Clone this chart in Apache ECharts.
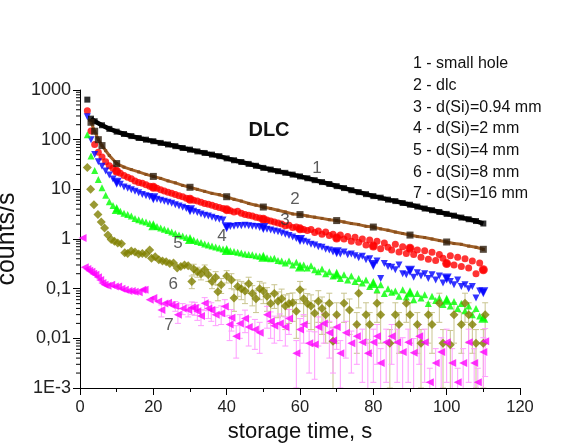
<!DOCTYPE html>
<html><head><meta charset="utf-8">
<script src="https://cdn.jsdelivr.net/npm/echarts@6/dist/echarts.min.js"></script>
<style>html,body{margin:0;padding:0;background:#fff}#c{width:563px;height:444px}</style>
</head><body><div id="c"></div>
<script>
// ---------- data ----------
const legendLines = ['1 - small hole','2 - dlc','3 - d(Si)=0.94 mm','4 - d(Si)=2 mm','5 - d(Si)=4 mm','6 - d(Si)=8 mm','7 - d(Si)=16 mm'];
const yTickLabels = ['1E-3','0,01','0,1','1','10','100','1000'];

// 1 - small hole
const holeX = [2,3,4,6,8,10,12,14,16,18,20,22,24,26,28,30,32,34,36,38,40,42,44,46,48,50,52,54,56,58,60,62,64,66,68,70,72,74,76,78,80,82,84,86,88,90,92,94,96,98,100,102,104,106,108,110];
const holeY = [640,265,235,195,165,145,130,118,108,100,93,86,80,74,68,63,58,54,50,46.5,42,38.5,35.5,32.5,29.8,27,25,23.2,21.5,19.8,18.2,16.7,15.3,14,12.8,11.6,10.6,9.6,8.8,8.0,7.3,6.8,6.2,5.8,5.3,4.9,4.5,4.1,3.8,3.5,3.2,2.95,2.7,2.5,2.3,2.05];

// 2 - dlc
const dlcX = [3,4,5,6,7,8,10,12,14,16,18,20,22,24,26,28,30,32,34,36,38,40,42,44,46,48,50,52,54,56,58,60,62,64,66,68,70,72,74,76,78,80,82,84,86,88,90,92,94,96,98,100,102,104,106,108,110];
const dlcY = [224,148,100,76,60,48,33,28,25,22.4,20,18.2,16.6,14.8,13.5,12,11,10,9.1,8.3,7.8,7.1,6.3,5.8,5.2,4.8,4.4,4.1,3.8,3.5,3.2,3.1,2.9,2.75,2.6,2.45,2.35,2.2,2.05,1.95,1.8,1.74,1.6,1.5,1.38,1.29,1.2,1.12,1.07,1.0,0.93,0.87,0.81,0.78,0.72,0.68,0.62];

// shared time grid of series 3-5
const tDense = [2,3,4,5,6,7,8,9,10,11,12,13,14,15,16,17,18,19,20,21,22,23,24,25,26,27,28,29,30,31,32,33,34,35,36,37,38,39,40,41,42,43,44,45,46,47,48,49,50,51,52,53,54,55,56,57,58,59,60,61,62,63,64,65,66,67,68,69,70,71,72,73,74,75,76,77,78,79,80,81,82,83,84,85,86,87,88,89,90,91,92,93,94,95,96,97,98,99,100,101,102,103,104,105,106,107,108,109,110];

// 3 - d(Si)=0.94 mm
const si094 = [380,150,80,56,45,36,30,26.5,23,21,19,17.5,16.3,14.8,13.8,13.2,12.3,11.5,11.0,10.5,9.8,9.3,8.7,8.3,7.9,7.4,7.1,6.6,6.3,6.0,5.8,5.5,5.2,5.0,4.8,4.5,4.3,4.1,3.9,3.7,3.5,3.6,3.3,3.1,3.0,2.9,2.75,2.65,2.5,2.4,2.3,2.2,2.1,2.0,1.85,1.9,1.7,1.75,1.6,1.55,1.48,1.55,1.35,1.45,1.25,1.38,1.18,1.25,1.05,1.2,1.0,1.12,0.9,1.08,0.86,1.0,0.76,0.95,0.72,0.9,0.64,0.83,0.68,0.6,0.78,0.55,0.7,0.51,0.65,0.49,0.6,0.43,0.58,0.39,0.54,0.37,0.49,0.41,0.32,0.46,0.3,0.43,0.28,0.4,0.26,0.36,0.2,0.33,0.24];

// 4 - d(Si)=2 mm
const si2 = [290,100,50,36,29,23.4,19.5,16.2,13.5,12.6,11.2,10.5,9.8,9.1,8.5,7.9,7.4,7.1,6.6,6.3,6.0,5.75,5.5,5.25,4.9,4.6,4.35,4.1,3.8,3.6,3.4,3.2,3.0,2.9,2.75,2.6,2.5,2.4,1.72,1.78,1.8,1.88,1.85,1.9,1.84,1.8,1.78,1.7,1.66,1.58,1.52,1.45,1.4,1.32,1.25,1.18,1.1,1.02,0.95,0.9,0.86,0.78,0.76,0.7,0.68,0.62,0.6,0.55,0.54,0.5,0.55,0.48,0.5,0.46,0.42,0.45,0.38,0.4,0.3,0.36,0.16,0.32,0.28,0.27,0.24,0.3,0.2,0.19,0.23,0.17,0.21,0.18,0.2,0.16,0.19,0.15,0.18,0.13,0.16,0.14,0.12,0.15,0.11,0.12,0.1,0.11,0.065,0.09,0.085];

// 5 - d(Si)=4 mm
const si4 = [126,47,24,15.8,10.7,7.6,5.6,4.7,4.0,3.6,3.3,3.1,2.9,2.6,2.45,2.3,2.2,2.05,1.9,1.78,1.66,1.58,1.48,1.38,1.29,1.2,1.15,1.07,1.0,0.95,0.89,0.85,0.79,0.76,0.72,0.69,0.66,0.63,0.6,0.58,0.56,0.54,0.52,0.5,0.49,0.48,0.46,0.45,0.44,0.42,0.4,0.41,0.37,0.36,0.33,0.36,0.3,0.34,0.28,0.3,0.26,0.29,0.24,0.22,0.25,0.2,0.22,0.18,0.2,0.16,0.19,0.15,0.18,0.14,0.16,0.13,0.15,0.11,0.13,0.095,0.12,0.08,0.1,0.085,0.09,0.07,0.095,0.068,0.085,0.06,0.08,0.065,0.075,0.05,0.07,0.058,0.065,0.048,0.06,0.045,0.055,0.04,0.05,0.036,0.045,0.03,0.04,0.028,0.026];

// 6 - d(Si)=8 mm   [time, counts, error]
const si8 = [[2,27.5,0],[2.9,10,0],[3.8,4.9,0],[4.9,3.1,0],[5.8,2.2,0],[6.7,1.66,0],[7.6,1.2,0],[8.5,0.98,0],[9.4,0.9,0],[10.3,0.83,0],[11.3,0.8,0],[12.2,0.53,0],[13,0.51,0],[14,0.57,0],[15,0.55,0],[16,0.5,0],[17,0.51,0],[18,0.5,0],[19,0.6,0],[19.5,0.41,0],[20.5,0.44,0],[21.5,0.38,0],[22.5,0.36,0],[23.5,0.35,0],[24.5,0.32,0],[25.5,0.33,0],[26.5,0.26,0],[27.5,0.28,0],[28.5,0.3,0],[29.5,0.29,0],[30.5,0.14,0.04],[31,0.25,0.06],[32,0.22,0.05],[33,0.2,0.05],[34,0.24,0.06],[35,0.19,0.05],[36,0.14,0.04],[37,0.17,0.05],[37.6,0.087,0.03],[38.5,0.12,0.04],[40,0.18,0.05],[41.3,0.15,0.05],[42,0.065,0.03],[43,0.11,0.04],[44,0.1,0.04],[45,0.09,0.04],[46,0.125,0.045],[47,0.08,0.035],[48,0.063,0.03],[49,0.1,0.04],[50,0.09,0.04],[51,0.07,0.035],[52,0.05,0.03],[53,0.08,0.04],[54,0.056,0.03],[55,0.063,0.035],[56,0.045,0.03],[57,0.05,0.03],[58,0.052,0.03],[59,0.035,0.025],[60,0.095,0.045],[61,0.063,0.035],[62,0.05,0.03],[63,0.045,0.03],[64,0.032,0.025],[65,0.056,0.035],[66,0.04,0.028],[67,0.03,0.022],[68,0.051,0.03],[69,0.0087,0.008],[70,0.03,0.022],[72,0.051,0.03],[73.5,0.037,0.025],[75.5,0.019,0.014],[76,0.081,0.04],[78,0.03,0.022],[79,0.019,0.014],[81,0.051,0.03],[82,0.03,0.022],[84.5,0.008,0.007],[86,0.03,0.022],[87,0.019,0.014],[89,0.051,0.03],[90,0.03,0.022],[92,0.019,0.014],[93,0.008,0.007],[95,0.03,0.022],[96,0.019,0.014],[98,0.051,0.03],[99,0.008,0.007],[101,0.0074,0.007],[102,0.03,0.022],[104,0.019,0.014],[105,0.051,0.03],[106,0.03,0.022],[107,0.019,0.014],[108,0.008,0.007],[110,0.008,0.007],[110.5,0.03,0.022]];

// 7 - d(Si)=16 mm   [time, counts, error]
const si16 = [[0.7,1.05,0],[1.3,0.27,0],[2,0.25,0],[2.5,0.23,0],[3.1,0.22,0],[3.6,0.2,0],[4.2,0.19,0],[4.9,0.17,0],[5.5,0.15,0],[6.1,0.13,0],[6.7,0.12,0],[7.5,0.115,0],[8.5,0.12,0],[9.5,0.11,0],[10.4,0.11,0],[11.3,0.1,0],[12.2,0.095,0],[13.2,0.09,0],[14.1,0.09,0],[14.9,0.087,0],[16,0.085,0],[17,0.095,0],[17.6,0.095,0],[19,0.06,0],[20,0.065,0],[21.3,0.055,0],[22.2,0.037,0.01],[23,0.05,0],[24,0.052,0],[24.9,0.047,0],[26,0.045,0.01],[26.7,0.03,0.01],[28,0.04,0.01],[29.5,0.037,0.01],[30.5,0.042,0.012],[31.3,0.041,0.012],[32,0.035,0.012],[33,0.028,0.01],[34,0.051,0.015],[35,0.04,0.015],[35.8,0.037,0.015],[37,0.03,0.012],[38.5,0.032,0.013],[39.5,0.044,0.016],[40.8,0.019,0.01],[41.3,0.026,0.012],[42.6,0.011,0.007],[43.6,0.02,0.01],[45,0.025,0.012],[46,0.017,0.01],[47.7,0.015,0.009],[49,0.013,0.008],[51,0.03,0.014],[52,0.022,0.012],[53,0.018,0.01],[54.5,0.02,0.011],[56,0.017,0.01],[57,0.025,0.013],[59,0.005,0.004],[60,0.015,0.01],[61,0.019,0.011],[62.5,0.008,0.006],[64,0.0075,0.006],[65,0.017,0.01],[66.5,0.02,0.012],[68,0.013,0.009],[69,0.009,0.007],[70,0.017,0.011],[71,0.005,0.004],[72.5,0.013,0.009],[74,0.008,0.006],[75.5,0.011,0.008],[77,0.0083,0.007],[78.5,0.005,0.0045],[80,0.0083,0.007],[81,0.011,0.008],[82,0.0032,0.003],[83.5,0.0083,0.007],[85,0.011,0.008],[86.5,0.0083,0.007],[88,0.0053,0.005],[89.5,0.0083,0.007],[91,0.0051,0.0048],[92.5,0.011,0.008],[94,0.0083,0.007],[95.4,0.0013,0.0012],[97,0.0032,0.003],[98.5,0.0053,0.005],[100,0.0083,0.007],[101.5,0.0032,0.003],[103,0.0013,0.0012],[104.5,0.0032,0.003],[106,0.0083,0.007],[107.5,0.0032,0.003],[108.5,0.0013,0.0012],[110,0.0053,0.005],[110.5,0.0087,0.007]];

// curve number annotations (placed in data coordinates)
const curveLabels = ['1','2','3','4','5','6','7'];
const curveLabelX = [64.6,58.6,55.9,38.7,26.7,25.4,24.3];
const curveLabelY = [27,6.2,2.4,1.15,0.83,0.12,0.0186];

// ---------- build ----------
const FONT = 'Arial, "Liberation Sans", sans-serif';
const pairs = (xs, ys) => xs.map((x, i) => [x, ys[i]]);
const every10 = arr => arr.filter(p => p[0] % 10 === 0);

function errRenderer(color) {
  return function (params, api) {
    const x = api.value(0), y = api.value(1), e = api.value(2);
    if (!e) return null;
    const lo = Math.max(y - e, 0.00095);
    const a = api.coord([x, y + e]);
    const b = api.coord([x, lo]);
    const w = 3;
    const st = { stroke: color, lineWidth: 1 };
    return { type: 'group', children: [
      { type: 'line', shape: { x1: a[0], y1: a[1], x2: b[0], y2: b[1] }, style: st },
      { type: 'line', shape: { x1: a[0]-w, y1: a[1], x2: a[0]+w, y2: a[1] }, style: st },
      { type: 'line', shape: { x1: b[0]-w, y1: b[1], x2: b[0]+w, y2: b[1] }, style: st }
    ]};
  };
}

// log-spaced minor ticks of the y axis (axis decoration)
const yMinor = [];
for (let k = -3; k < 3; k++) for (let m = 2; m <= 9; m++) yMinor.push([0, m * Math.pow(10, k)]);

const hole = pairs(holeX, holeY);
const dlc = pairs(dlcX, dlcY);
const s3 = pairs(tDense, si094);
const s4 = pairs(tDense, si2);
const s5 = pairs(tDense, si4);

const chart = echarts.init(document.getElementById('c'), null, { renderer: 'canvas' });
chart.setOption({
  animation: false,
  backgroundColor: '#fff',
  textStyle: { fontFamily: FONT },
  grid: { left: 80, right: 43, top: 90, bottom: 56, containLabel: false, outerBoundsMode: 'none' },
  xAxis: {
    type: 'value', min: 0, max: 120, interval: 20,
    name: 'storage time, s', nameLocation: 'middle', nameGap: 33,
    nameTextStyle: { fontSize: 22, color: '#111', fontFamily: FONT },
    axisLine: { show: true, onZero: false, lineStyle: { color: '#000', width: 1 } },
    axisTick: { show: true, inside: false, length: 7, lineStyle: { color: '#000' } },
    minorTick: { show: true, splitNumber: 2, length: 4, lineStyle: { color: '#000' } },
    axisLabel: { fontSize: 16.5, color: '#222', margin: 11, fontFamily: FONT },
    splitLine: { show: false }, minorSplitLine: { show: false }
  },
  yAxis: {
    type: 'log', logBase: 10, min: 0.001, max: 1000, interval: 1,
    name: 'counts/s', nameLocation: 'middle', nameGap: 50, nameRotate: 90,
    nameTextStyle: { fontSize: 25, color: '#111', fontFamily: FONT },
    axisLine: { show: true, onZero: false, lineStyle: { color: '#000', width: 1 } },
    axisTick: { show: true, inside: false, length: 7, lineStyle: { color: '#000' } },
    axisLabel: { fontSize: 18, color: '#222', margin: 9, fontFamily: FONT,
      formatter: v => yTickLabels[Math.round(Math.log10(v)) + 3] },
    splitLine: { show: false }
  },
  graphic: [
    { type: 'text', x: 269, y: 130, style: { text: 'DLC', font: 'bold 20px ' + FONT, fill: '#111', align: 'center', verticalAlign: 'middle' } },
    { type: 'text', x: 413, y: 53, style: { text: legendLines.join('\n'), font: '16px ' + FONT, lineHeight: 21.7, fill: '#111' } }
  ],
  series: [
    { type: 'custom', name: 'yMinor', data: yMinor, encode: { x: 0, y: 1 }, silent: true, clip: false, z: 1,
      renderItem: (p, api) => { const c = api.coord([api.value(0), api.value(1)]);
        return { type: 'line', shape: { x1: c[0]-4, y1: c[1], x2: c[0], y2: c[1] }, style: { stroke: '#000', lineWidth: 1 } }; } },
    // error bars
    { type: 'custom', name: 'err8', data: si8, encode: { x: 0, y: 1 }, renderItem: errRenderer('#c9c58f'), clip: true, z: 2, silent: true },
    { type: 'custom', name: 'err16', data: si16, encode: { x: 0, y: 1 }, renderItem: errRenderer('#ff9cff'), clip: true, z: 2, silent: true },
    // 1 small hole
    { type: 'line', name: legendLines[0], data: hole.slice(1), showSymbol: false, symbol: 'none',
      lineStyle: { color: '#000', width: 4.5 }, z: 5 },
    { type: 'scatter', name: legendLines[0] + ' pts', data: hole, symbol: 'rect', symbolSize: 6,
      itemStyle: { color: '#000' }, z: 5 },
    // 2 dlc
    { type: 'line', name: legendLines[1], data: dlc, symbol: 'rect', symbolSize: 3, showSymbol: true,
      lineStyle: { color: '#a0622a', width: 3 }, itemStyle: { color: '#8a4f1c' }, z: 4 },
    { type: 'scatter', name: legendLines[1] + ' marks', data: dlc.filter(p => p[0] % 10 === 0 || p[0] < 7), symbol: 'rect', symbolSize: 7,
      itemStyle: { color: '#2a1a0a' }, z: 5 },
    // 3
    { type: 'scatter', name: legendLines[2], data: s3, symbol: 'circle', symbolSize: 7, itemStyle: { color: '#ff0000' }, z: 3 },
    { type: 'scatter', data: every10(s3), symbol: 'circle', symbolSize: 9, itemStyle: { color: '#ff0000' }, z: 3 },
    // 4
    { type: 'scatter', name: legendLines[3], data: s4, symbol: 'triangle', symbolRotate: 180, symbolSize: 7, itemStyle: { color: '#0000ff' }, z: 3 },
    { type: 'scatter', data: every10(s4), symbol: 'triangle', symbolRotate: 180, symbolSize: 10, itemStyle: { color: '#0000ff' }, z: 3 },
    // 5
    { type: 'scatter', name: legendLines[4], data: s5, symbol: 'triangle', symbolSize: 7, itemStyle: { color: '#00ff00' }, z: 3 },
    { type: 'scatter', data: every10(s5), symbol: 'triangle', symbolSize: 10, itemStyle: { color: '#00ff00' }, z: 3 },
    // 6
    { type: 'scatter', name: legendLines[5], data: si8, encode: { x: 0, y: 1 }, symbol: 'diamond', symbolSize: 9, itemStyle: { color: '#808000' }, z: 3 },
    // 7
    { type: 'scatter', name: legendLines[6], data: si16, encode: { x: 0, y: 1 }, symbol: 'triangle', symbolRotate: 90, symbolSize: 8, itemStyle: { color: '#ff00ff' }, z: 3 },
    // curve numbers
    { type: 'scatter', name: 'numbers', data: curveLabels.map((t, i) => ({ value: [curveLabelX[i], curveLabelY[i]], name: t })),
      symbolSize: 0, silent: true, z: 10,
      label: { show: true, position: 'inside', formatter: p => p.name, fontSize: 17, color: '#333', fontFamily: FONT } }
  ]
});
</script>
</body></html>
